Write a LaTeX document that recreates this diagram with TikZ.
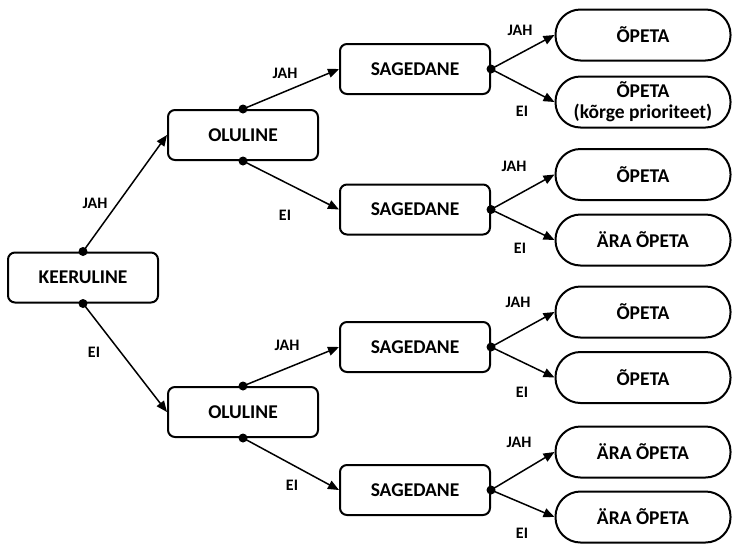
\documentclass[tikz,border=0pt]{standalone}
\usepackage{fontspec}
\setmainfont{Carlito}
\usetikzlibrary{arrows.meta}
\begin{document}
\begin{tikzpicture}[x=1pt,y=-1pt,
  box/.style={draw, line width=2pt, rounded corners=7pt, minimum width=150pt, minimum height=50pt, inner sep=0pt, font=\bfseries\fontsize{19.5}{21}\selectfont},
  leaf/.style={draw, line width=2pt, rounded corners=25pt, minimum width=175pt, minimum height=51pt, inner sep=0pt, align=center, font=\bfseries\fontsize{19.5}{21}\selectfont},
  lbl/.style={font=\bfseries\fontsize{16}{18}\selectfont, inner sep=0pt},
  arr/.style={line width=1.5pt, -{Triangle[length=11pt,width=9pt]}},
  dotn/.style={circle, fill, inner sep=0pt, minimum size=9pt}]
\useasboundingbox (0,0) rectangle (735,544);
\node[box] (k) at (83,277.5) {KEERULINE};
\node[box] (o1) at (243,135) {OLULINE};
\node[box] (o2) at (243,412) {OLULINE};
\node[box] (s1) at (415,69) {SAGEDANE};
\node[box] (s2) at (415,209.5) {SAGEDANE};
\node[box] (s3) at (415,347) {SAGEDANE};
\node[box] (s4) at (415,490) {SAGEDANE};
\node[leaf] (l1) at (643,35) {ÕPETA};
\node[leaf] (l2) at (643,102) {ÕPETA\\(kõrge prioriteet)};
\node[leaf] (l3) at (643,174.5) {ÕPETA};
\node[leaf] (l4) at (643,240) {ÄRA ÕPETA};
\node[leaf] (l5) at (643,312) {ÕPETA};
\node[leaf] (l6) at (643,377.5) {ÕPETA};
\node[leaf] (l7) at (643,452) {ÄRA ÕPETA};
\node[leaf] (l8) at (643,517) {ÄRA ÕPETA};
\foreach \n in {k,o1,o2} {
  \node[dotn] (\n n) at (\n.north) {};
  \node[dotn] (\n s) at (\n.south) {};
}
\foreach \n in {s1,s2,s3,s4} {
  \node[dotn] (\n e) at (\n.east) {};
}
\draw[arr] (k.north) -- (o1.west);
\draw[arr] (k.south) -- (o2.west);
\draw[arr] (o1.north) -- (s1.west);
\draw[arr] (o1.south) -- (s2.west);
\draw[arr] (o2.north) -- (s3.west);
\draw[arr] (o2.south) -- (s4.west);
\draw[arr] (s1.east) -- (l1.west);
\draw[arr] (s1.east) -- (l2.west);
\draw[arr] (s2.east) -- (l3.west);
\draw[arr] (s2.east) -- (l4.west);
\draw[arr] (s3.east) -- (l5.west);
\draw[arr] (s3.east) -- (l6.west);
\draw[arr] (s4.east) -- (l7.west);
\draw[arr] (s4.east) -- (l8.west);
\node[lbl] (t1) at (95,203) {JAH};
\node[lbl] (t2) at (94,352) {EI};
\node[lbl] (t3) at (285,73) {JAH};
\node[lbl] (t4) at (285,215) {EI};
\node[lbl] (t5) at (287,345) {JAH};
\node[lbl] (t6) at (292,485) {EI};
\node[lbl] (t7) at (520,30) {JAH};
\node[lbl] (t8) at (522,111) {EI};
\node[lbl] (t9) at (514,166) {JAH};
\node[lbl] (t10) at (520,248) {EI};
\node[lbl] (t11) at (518,302) {JAH};
\node[lbl] (t12) at (522,392) {EI};
\node[lbl] (t13) at (519,442) {JAH};
\node[lbl] (t14) at (522,533) {EI};
\end{tikzpicture}
\end{document}
